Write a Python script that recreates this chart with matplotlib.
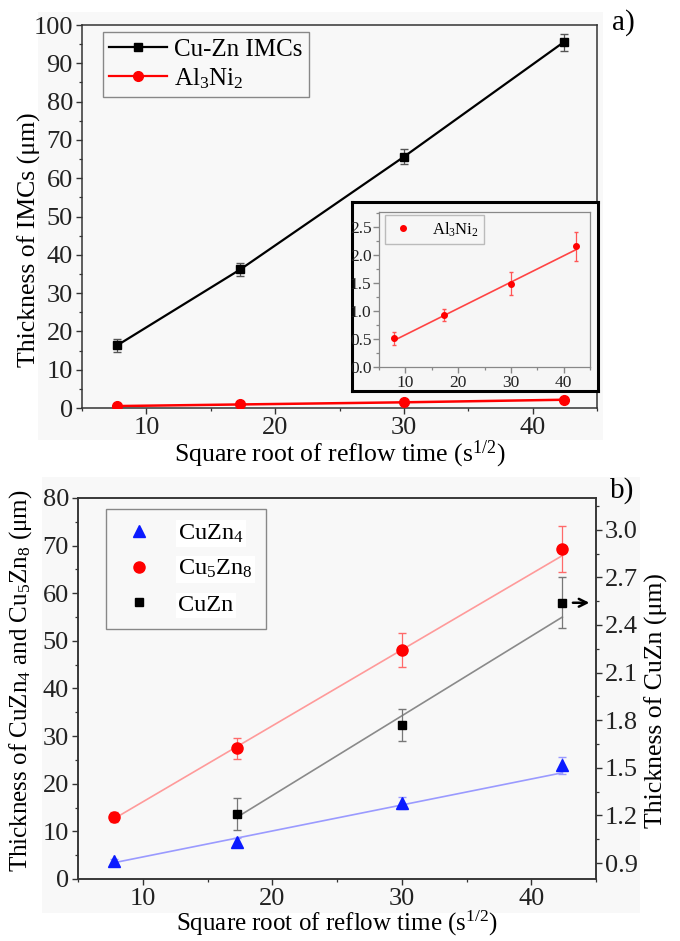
import numpy as np
import matplotlib
matplotlib.use('Agg')
import matplotlib.pyplot as plt
from matplotlib.patches import Rectangle
from matplotlib.lines import Line2D
from matplotlib.ticker import MultipleLocator, FormatStrFormatter

plt.rcParams['font.family'] = ['Liberation Serif', 'DejaVu Serif']
plt.rcParams['mathtext.fontset'] = 'custom'
plt.rcParams['mathtext.rm'] = 'Liberation Serif'
plt.rcParams['mathtext.it'] = 'Liberation Serif:italic'

# square root of reflow time (s^1/2)
sqrt_t = [7.75, 17.3, 30.0, 42.4]

# a) total IMC thickness (um)
cuzn_imc = [16.4, 36.2, 65.6, 95.5]
cuzn_imc_err = [1.7, 1.7, 2.0, 2.2]
al3ni2 = [0.51, 0.93, 1.49, 2.16]
al3ni2_err = [0.11, 0.10, 0.21, 0.26]
al3ni2_fit = [0.47, 2.10]

# b) individual Cu-Zn phases (um)
cuzn4 = [3.7, 7.7, 15.9, 23.9]
cuzn4_err = [0.6, 0.9, 1.3, 1.8]
cuzn4_fit = [3.4, 22.3]
cu5zn8 = [13.0, 27.4, 48.1, 69.3]
cu5zn8_err = [1.0, 2.3, 3.6, 4.8]
cu5zn8_fit = [12.6, 67.9]
sqrt_t_cuzn = [17.3, 30.0, 42.4]
cuzn = [1.21, 1.77, 2.54]
cuzn_err = [0.10, 0.10, 0.16]
cuzn_fit = [1.19, 2.45]

BG = '#f8f8f8'
FS = 19      # tick labels
LFS = 18.5   # axis labels

fig = plt.figure(figsize=(6.8, 9.41), dpi=100)
fig.patch.set_facecolor('white')
# light grey backdrop behind each panel
fig.add_artist(Rectangle((0.056, 0.532), 0.831, 0.455, transform=fig.transFigure,
                         facecolor=BG, edgecolor='none', zorder=-5))
fig.add_artist(Rectangle((0.062, 0.030), 0.879, 0.463, transform=fig.transFigure,
                         facecolor=BG, edgecolor='none', zorder=-5))


def style_axis(ax, color='#333333', size=FS, lw=1.1):
    for s in ax.spines.values():
        s.set_color(color)
        s.set_linewidth(lw)
    ax.tick_params(which='major', direction='out', length=4, width=1, labelsize=size,
                   colors=color, labelcolor='#222222', pad=2.5)
    ax.tick_params(which='minor', direction='out', length=2.2, width=0.9, colors=color)


# ---------------- panel a ----------------
ax1 = fig.add_axes([0.1206, 0.5664, 0.7574, 0.4070])
ax1.set_facecolor(BG)
style_axis(ax1)
ax1.plot(sqrt_t, cuzn_imc, '-', color='black', lw=1.6, zorder=2)
ax1.errorbar(sqrt_t, cuzn_imc, yerr=cuzn_imc_err, fmt='s', color='black', ms=6,
             ecolor='#555555', elinewidth=0.9, capsize=3, zorder=3)
ax1.plot(sqrt_t, al3ni2, '-', color='red', lw=1.8, zorder=2)
ax1.plot(sqrt_t, al3ni2, 'o', color='red', ms=7, zorder=3)
ax1.set_xlim(5, 45)
ax1.set_ylim(0, 100)
ax1.xaxis.set_major_locator(MultipleLocator(10))
ax1.xaxis.set_minor_locator(MultipleLocator(5))
ax1.yaxis.set_major_locator(MultipleLocator(10))
ax1.yaxis.set_minor_locator(MultipleLocator(5))
ax1.set_xlabel(r'Square root of reflow time (s$^{1/2}$)', fontsize=LFS, labelpad=0)
ax1.set_ylabel(r'Thickness of IMCs (μm)', fontsize=LFS)
ax1.yaxis.set_label_coords(-0.08, 0.439)

h1 = Line2D([], [], color='black', lw=1.6, marker='s', ms=6)
h2 = Line2D([], [], color='red', lw=1.6, marker='o', ms=7)
leg = ax1.legend([h1, h2], ['Cu-Zn IMCs', r'Al$_3$Ni$_2$'], loc='upper left',
                 bbox_to_anchor=(0.041, 0.981), borderaxespad=0, fontsize=18,
                 handlelength=2.3, handletextpad=0.3, labelspacing=0.2,
                 borderpad=0.25, fancybox=False, framealpha=1)
leg.get_frame().set_edgecolor('#888888')
leg.get_frame().set_facecolor(BG)
fig.text(0.916, 0.976, 'a)', fontsize=21, ha='center', va='center')

# inset frame and inset axes
box = fig.add_axes([0.5176, 0.5845, 0.3618, 0.2008])
box.set_facecolor('#f6f6f6')
box.set_xticks([])
box.set_yticks([])
for s in box.spines.values():
    s.set_color('black')
    s.set_linewidth(2.2)

ins = fig.add_axes([0.5574, 0.6100, 0.3103, 0.1647])
ins.set_facecolor('#f6f6f6')
style_axis(ins, color='#888888', size=12.5, lw=0.9)
ins.tick_params(which='major', pad=1.5)
ins.plot([sqrt_t[0], sqrt_t[-1]], al3ni2_fit, '-', color='#ff4444', lw=1.2, zorder=2)
ins.errorbar(sqrt_t, al3ni2, yerr=al3ni2_err, fmt='o', color='red', ms=4,
             ecolor='#ff5555', elinewidth=0.9, capsize=1.5, zorder=3)
ins.set_xlim(5, 45)
ins.set_ylim(0, 2.77)
ins.xaxis.set_major_locator(MultipleLocator(10))
ins.xaxis.set_minor_locator(MultipleLocator(5))
ins.yaxis.set_major_locator(MultipleLocator(0.5))
ins.yaxis.set_minor_locator(MultipleLocator(0.25))
ins.yaxis.set_major_formatter(FormatStrFormatter('%.1f'))
ileg = ins.legend([Line2D([], [], color='red', marker='o', ls='none', ms=4)],
                  [r'Al$_3$Ni$_2$'], loc='upper left', bbox_to_anchor=(0.03, 0.98),
                  borderaxespad=0, fontsize=12, handlelength=1.5, handletextpad=1.0,
                  borderpad=0.3, fancybox=False, framealpha=1)
ileg.get_frame().set_edgecolor('#bbbbbb')
ileg.get_frame().set_facecolor('#f6f6f6')

# ---------------- panel b ----------------
ax = fig.add_axes([0.1147, 0.0659, 0.7618, 0.4049])
ax.set_facecolor(BG)
style_axis(ax)
ax.plot([sqrt_t[0], sqrt_t[-1]], cuzn4_fit, '-', color='#9a9aff', lw=1.2, zorder=2)
ax.errorbar(sqrt_t, cuzn4, yerr=cuzn4_err, fmt='^', color='#0a1aff', ms=8,
            ecolor='#9a9aff', elinewidth=0.9, capsize=3, zorder=3)
ax.plot([sqrt_t[0], sqrt_t[-1]], cu5zn8_fit, '-', color='#ff9a9a', lw=1.2, zorder=2)
ax.errorbar(sqrt_t, cu5zn8, yerr=cu5zn8_err, fmt='o', color='#ff0000', ms=8,
            ecolor='#ff6a6a', elinewidth=0.9, capsize=3, zorder=3)
ax.set_xlim(5, 45)
ax.set_ylim(0, 80)
ax.xaxis.set_major_locator(MultipleLocator(10))
ax.xaxis.set_minor_locator(MultipleLocator(5))
ax.yaxis.set_major_locator(MultipleLocator(10))
ax.yaxis.set_minor_locator(MultipleLocator(5))
ax.set_xlabel(r'Square root of reflow time (s$^{1/2}$)', fontsize=18, labelpad=-0.5)
ax.set_ylabel(r'Thickness of CuZn$_4$ and Cu$_5$Zn$_8$ (μm)', fontsize=18)
ax.yaxis.set_label_coords(-0.084, 0.52)

ax2 = ax.twinx()
style_axis(ax2)
ax2.plot([sqrt_t_cuzn[0], sqrt_t_cuzn[-1]], cuzn_fit, '-', color='#8a8a8a', lw=1.2, zorder=2)
ax2.errorbar(sqrt_t_cuzn, cuzn, yerr=cuzn_err, fmt='s', color='black', ms=6,
             ecolor='#777777', elinewidth=0.9, capsize=3, zorder=3)
ax2.set_ylim(0.8, 3.2)
ax2.yaxis.set_major_locator(MultipleLocator(0.3))
ax2.yaxis.set_minor_locator(MultipleLocator(0.15))
ax2.set_yticks([0.9, 1.2, 1.5, 1.8, 2.1, 2.4, 2.7, 3.0])
ax2.yaxis.set_major_formatter(FormatStrFormatter('%.1f'))
ax2.set_ylabel('Thickness of CuZn (μm)', fontsize=LFS)
ax2.yaxis.set_label_coords(1.093, 0.467)
ax2.annotate('', xy=(44.7, cuzn[-1]), xytext=(43.0, cuzn[-1]),
             arrowprops=dict(arrowstyle='->', color='black', lw=1.8, mutation_scale=14))

handles = [Line2D([], [], color='#0a1aff', marker='^', ls='none', ms=8),
           Line2D([], [], color='#ff0000', marker='o', ls='none', ms=8),
           Line2D([], [], color='black', marker='s', ls='none', ms=6)]
bleg = ax.legend(handles, [r'CuZn$_4$', r'Cu$_5$Zn$_8$', 'CuZn'], loc='upper left',
                 bbox_to_anchor=(0.055, 0.971), borderaxespad=0, fontsize=17.5,
                 handlelength=1.6, handletextpad=0.8, labelspacing=0.55,
                 borderpad=0.55, fancybox=False, framealpha=1)
bleg.get_frame().set_edgecolor('#888888')
bleg.get_frame().set_facecolor(BG)
for t in bleg.get_texts():
    t.set_bbox(dict(facecolor='white', edgecolor='none', pad=1.5))
fig.text(0.915, 0.479, 'b)', fontsize=21, ha='center', va='center')

fig.savefig('out.png', dpi=100)
